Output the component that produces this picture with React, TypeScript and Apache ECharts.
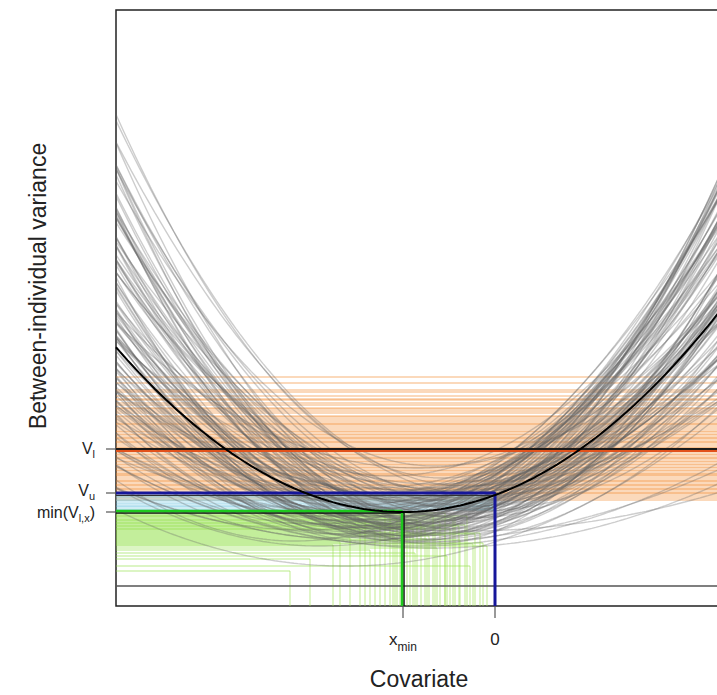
import React, { useEffect, useRef } from "react";
import * as echarts from "echarts";

// ---- Data ----
// Posterior sample curves: vertex position (x, y) and curvature of each parabola
const curveVertexX = [
  -0.9, -1.1, -0.7, -1.35, -0.52, -1.02, -0.81, -1.24, -0.61, -1.48,
  -0.74, -1.6, -0.4, -0.88, -1.18, -0.57, -1.05, -0.92, -1.3, -0.3,
  -1.75, -0.65, -1.08, -0.45, -0.98, -1.4, -0.72, -0.2, -1.22, -0.84,
  -1.55, -0.35, -0.9, -1.15, -0.62, -1.9, -0.78, -1.0, -0.5, -1.28,
  -0.7, -1.45, -0.25, -1.1, -0.86, -0.55, -1.65, -0.95, -0.42, -1.2,
  -0.52, -0.3, -0.1, -0.6, -1.36, -1.8, -2.0, -1.5, -0.6, -1.0,
  -0.3, -0.8, -1.12, -0.76, -1.32, -0.48, -0.97, -0.66, -1.42, -0.58,
  -1.05, -0.83, -0.15, -1.25, -0.92, -0.38, -1.58, -0.68, -1.16, -0.8,
  -1.03, -0.69, -1.27, -0.44, -0.87, -1.5, -0.58, -1.14, -0.79, -0.33,
  -1.06, -0.93, -0.64, -1.37, -0.49, -1.2, -0.75, -0.96, -0.54, -1.09,
  -0.82, -1.33, -0.27, -0.91, -1.19, -0.71, -0.99, -0.46, -1.44, -0.85,
  -0.62, -1.26, -0.77, -1.02, -0.36, -1.13, -0.89, -0.59, -1.7, -0.95,
];
const curveVertexY = [
  0.62, 0.78, 0.55, 0.91, 0.7, 0.48, 0.85, 0.66, 1.02, 0.58,
  0.73, 0.52, 0.95, 0.44, 0.6, 0.82, 1.1, 0.68, 0.5, 0.88,
  0.4, 0.64, 0.76, 0.58, 0.92, 0.71, 0.46, 0.8, 0.98, 0.54,
  0.66, 0.72, 0.5, 0.84, 0.42, 0.56, 1.18, 0.62, 0.8, 0.45,
  0.9, 0.6, 0.68, 0.52, 0.74, 0.98, 0.48, 0.86, 0.57, 0.7,
  1.08, 1.0, 0.9, 1.2, 0.77, 0.62, 0.45, 0.2, 0.38, 0.43,
  0.55, 0.4, 0.64, 0.5, 0.82, 0.62, 0.56, 0.76, 0.54, 0.47,
  0.66, 0.95, 0.75, 0.58, 0.6, 0.84, 0.74, 0.52, 0.9, 0.66,
  0.58, 0.8, 0.73, 0.66, 0.88, 0.52, 0.6, 0.47, 0.69, 0.93,
  0.81, 0.51, 0.72, 0.64, 0.86, 0.55, 0.63, 0.78, 0.53, 0.69,
  0.58, 0.87, 0.77, 0.45, 0.93, 0.57, 0.7, 0.5, 0.8, 0.61,
  0.95, 0.49, 0.74, 0.62, 0.68, 0.58, 0.83, 0.44, 0.7, 0.96,
];
const curveCurvature = [
  0.22, 0.18, 0.3, 0.15, 0.26, 0.34, 0.2, 0.28, 0.17, 0.24,
  0.32, 0.21, 0.19, 0.25, 0.29, 0.16, 0.23, 0.33, 0.27, 0.27,
  0.14, 0.36, 0.2, 0.3, 0.13, 0.22, 0.27, 0.22, 0.18, 0.37,
  0.19, 0.25, 0.15, 0.12, 0.33, 0.12, 0.16, 0.3, 0.24, 0.26,
  0.11, 0.17, 0.21, 0.31, 0.23, 0.14, 0.16, 0.27, 0.34, 0.1,
  0.34, 0.3, 0.26, 0.28, 0.25, 0.17, 0.19, 0.107, 0.08, 0.07,
  0.06, 0.09, 0.24, 0.19, 0.2, 0.28, 0.18, 0.13, 0.25, 0.22,
  0.15, 0.25, 0.18, 0.14, 0.29, 0.29, 0.13, 0.26, 0.21, 0.35,
  0.26, 0.31, 0.17, 0.23, 0.19, 0.23, 0.32, 0.21, 0.28, 0.21,
  0.27, 0.2, 0.18, 0.25, 0.26, 0.29, 0.24, 0.31, 0.2, 0.16,
  0.33, 0.16, 0.24, 0.27, 0.23, 0.38, 0.12, 0.27, 0.2, 0.25,
  0.23, 0.19, 0.37, 0.22, 0.3, 0.11, 0.29, 0.17, 0.15, 0.21,
];

// Posterior mean curve
const meanVertexX = -0.92;
const meanVertexY = 0.74;
const meanCurvature = 0.2;

// Sampled V_l levels (orange)
const orangeLevels = [
  2.09, 2.03, 1.96, 1.94, 1.9, 1.87, 1.86, 1.83, 1.81, 1.78,
  1.77, 1.75, 1.73, 1.7, 1.69, 1.67, 1.65, 1.63, 1.62, 1.61,
  1.59, 1.57, 1.55, 1.54, 1.52, 1.51, 1.49, 1.48, 1.47, 1.45,
  1.44, 1.43, 1.41, 1.39, 1.38, 1.36, 1.34, 1.32, 1.31, 1.29,
  1.28, 1.27, 1.25, 1.24, 1.22, 1.21, 1.19, 1.18, 1.16, 1.15,
  1.13, 1.12, 1.11, 1.1, 1.08, 1.06, 1.05, 1.04, 1.02, 1.01,
  1.0, 0.98, 0.97, 0.96, 0.94, 0.93, 0.92, 0.9, 0.88, 0.86,
];
// Sampled V_u levels (light blue)
const blueLevels = [0.915, 0.9, 0.89, 0.875, 0.86, 0.85, 0.83, 0.815, 0.8, 0.79, 0.77, 0.76];
// Sampled minima (green): level and location
const greenLevels = [
  0.73, 0.72, 0.71, 0.7, 0.7, 0.69, 0.68, 0.67, 0.66, 0.66,
  0.65, 0.64, 0.63, 0.63, 0.62, 0.61, 0.6, 0.6, 0.59, 0.58,
  0.57, 0.57, 0.56, 0.55, 0.54, 0.53, 0.52, 0.51, 0.5, 0.49,
  0.48, 0.47, 0.46, 0.45, 0.44, 0.43, 0.42, 0.41, 0.4, 0.38,
  0.36, 0.33, 0.3, 0.27, 0.2, 0.15,
];
const greenXmin = [
  -0.5, -0.95, -0.62, -1.05, -0.28, -1.1, -0.4, -0.98, -0.78, -0.42,
  -1.3, -0.55, -0.74, -1.15, -0.88, -0.3, -1.02, -0.36, -0.6, -0.7,
  -0.45, -0.82, -1.35, -1.2, -0.85, -0.15, -0.2, -0.5, -0.66, -1.0,
  -1.45, -0.68, -0.35, -0.92, -1.55, -0.12, -0.22, -1.62, -0.08, -0.58,
  -1.25, -0.8, -0.48, -1.85, -0.25, -2.05,
];

// Summary values
const vLower = 1.37;
const vUpper = 0.93;
const minVlx = 0.74;
const xMinValue = -0.92;
const zeroValue = 0;

// Tick labels (rich-text markup: a = normal, b = subscript)
const xTickValues = [xMinValue, 0];
const xTickLabels = ["{a|x}{b|min}", "{a|0}"];
const yTickValues = [vLower, vUpper, minVlx];
const yTickLabels = ["{a|V}{b|l}", "{a|V}{b|u}", "{a|min(V}{b|l,x}{a|)}"];
const yLabelNudge = [0, -2, 1];

const X_LO = -3.79;
const X_HI = 2.4;
const Y_LO = -0.2;
const Y_HI = 5.76;

const FONT = "Liberation Sans, Arial, sans-serif";

function parabola(h: number, k: number, c: number): number[][] {
  const pts: number[][] = [];
  const steps = 160;
  for (let i = 0; i <= steps; i++) {
    const x = X_LO + ((X_HI - X_LO) * i) / steps;
    pts.push([x, k + c * (x - h) * (x - h)]);
  }
  return pts;
}

function lineSeries(data: number[][], color: string, width: number): any {
  return {
    type: "line",
    data,
    symbol: "none",
    silent: true,
    clip: true,
    lineStyle: { color, width },
    emphasis: { disabled: true },
  };
}

const xRich = {
  a: { fontSize: 17, lineHeight: 20, verticalAlign: "top", fill: "#222", fontFamily: FONT },
  b: { fontSize: 12, lineHeight: 12, padding: [10, 0, 0, 0], verticalAlign: "top", fill: "#222", fontFamily: FONT },
};
const yRich = {
  a: { fontSize: 16, lineHeight: 17, verticalAlign: "top", fill: "#222", fontFamily: FONT },
  b: { fontSize: 11, lineHeight: 11, padding: [8, 0, 0, 0], verticalAlign: "top", fill: "#222", fontFamily: FONT },
};

export default function App() {
  const ref = useRef<HTMLDivElement>(null);

  useEffect(() => {
    const chart = echarts.init(ref.current!, undefined, { renderer: "svg" });
    const series: any[] = [];

    orangeLevels.forEach((y) =>
      series.push(lineSeries([[X_LO, y], [X_HI, y]], "rgba(244,140,50,0.33)", 2))
    );
    blueLevels.forEach((y) =>
      series.push(lineSeries([[X_LO, y], [0, y]], "rgba(110,195,225,0.32)", 2))
    );
    greenLevels.forEach((y, i) => {
      const xm = greenXmin[i];
      series.push(lineSeries([[X_LO, y], [xm, y]], "rgba(140,222,60,0.3)", 2));
      series.push(lineSeries([[xm, y], [xm, Y_LO]], "rgba(165,228,90,0.34)", 2));
    });
    curveVertexX.forEach((h, i) => {
      series.push(
        lineSeries(parabola(h, curveVertexY[i], curveCurvature[i]), "rgba(100,100,100,0.32)", 1.4)
      );
    });

    // zero line
    series.push(lineSeries([[X_LO, zeroValue], [X_HI, zeroValue]], "#555555", 1.5));
    // V_l
    series.push(lineSeries([[X_LO, vLower - 0.02], [X_HI, vLower - 0.02]], "#e2521c", 2));
    series.push(lineSeries([[X_LO, vLower], [X_HI, vLower]], "#1a1a1a", 2));
    // V_u
    series.push(lineSeries([[X_LO, vUpper - 0.025], [0, vUpper - 0.025]], "#333333", 1));
    series.push(lineSeries([[X_LO, vUpper], [0, vUpper], [0, Y_LO]], "#16169a", 3));
    // min(V_l,x)
    series.push(lineSeries([[X_LO, minVlx - 0.01], [xMinValue + 0.01, minVlx - 0.01], [xMinValue + 0.01, Y_LO]], "#111111", 1.5));
    series.push(lineSeries([[X_LO, minVlx + 0.01], [xMinValue - 0.01, minVlx + 0.01], [xMinValue - 0.01, Y_LO]], "#1ec81e", 2.5));
    // mean curve
    series.push(lineSeries(parabola(meanVertexX, meanVertexY, meanCurvature), "#000000", 2));

    const option: any = {
      animation: false,
      backgroundColor: "#ffffff",
      grid: {
        left: 116,
        top: 10,
        width: 619,
        height: 596,
        show: true,
        borderColor: "#222222",
        borderWidth: 1.5,
        backgroundColor: "transparent",
        containLabel: false,
      },
      xAxis: {
        type: "value",
        min: X_LO,
        max: X_HI,
        axisLine: { show: false },
        splitLine: { show: false },
        axisTick: { show: false },
        axisLabel: { show: false },
      },
      yAxis: {
        type: "value",
        min: Y_LO,
        max: Y_HI,
        axisLine: { show: false },
        splitLine: { show: false },
        axisTick: { show: false },
        axisLabel: { show: false },
      },
      series,
    };

    chart.setOption(option);

    // Ticks and tick labels placed through the chart's own scales
    const toPx = (x: number, y: number) =>
      chart.convertToPixel({ gridIndex: 0 }, [x, y]) as number[];
    const [leftPx, bottomPx] = toPx(X_LO, Y_LO);
    const tickStyle = { stroke: "#555555", lineWidth: 1.2 };
    const graphics: any[] = [];

    xTickValues.forEach((v, i) => {
      const [px] = toPx(v, Y_LO);
      graphics.push({
        type: "line",
        silent: true,
        shape: { x1: px, y1: bottomPx, x2: px, y2: bottomPx + 12 },
        style: tickStyle,
      });
      graphics.push({
        type: "text",
        silent: true,
        x: px,
        y: bottomPx + 25,
        style: {
          text: xTickLabels[i],
          rich: xRich,
          align: "center",
          verticalAlign: "top",
          textAlign: "center",
          textVerticalAlign: "top",
        },
      });
    });

    yTickValues.forEach((v, i) => {
      const [, py] = toPx(X_LO, v);
      graphics.push({
        type: "line",
        silent: true,
        shape: { x1: leftPx - 10, y1: py, x2: leftPx, y2: py },
        style: tickStyle,
      });
      graphics.push({
        type: "text",
        silent: true,
        x: leftPx - 21,
        y: py + yLabelNudge[i],
        style: {
          text: yTickLabels[i],
          rich: yRich,
          align: "right",
          verticalAlign: "middle",
          textAlign: "right",
          textVerticalAlign: "middle",
        },
      });
    });

    graphics.push(
      {
        type: "text",
        silent: true,
        x: 419,
        y: 679,
        style: {
          text: "Covariate",
          fontSize: 23,
          fontFamily: FONT,
          fill: "#222",
          textAlign: "center",
          textVerticalAlign: "middle",
        },
      },
      {
        type: "text",
        silent: true,
        x: 38,
        y: 286,
        rotation: Math.PI / 2,
        style: {
          text: "Between-individual variance",
          fontSize: 23,
          fontFamily: FONT,
          fill: "#222",
          textAlign: "center",
          textVerticalAlign: "middle",
        },
      }
    );

    chart.setOption({ graphic: graphics });
    return () => chart.dispose();
  }, []);

  return (
    <div
      ref={ref}
      style={{ position: "fixed", left: 0, top: 0, width: 740, height: 695, background: "#fff" }}
    />
  );
}
